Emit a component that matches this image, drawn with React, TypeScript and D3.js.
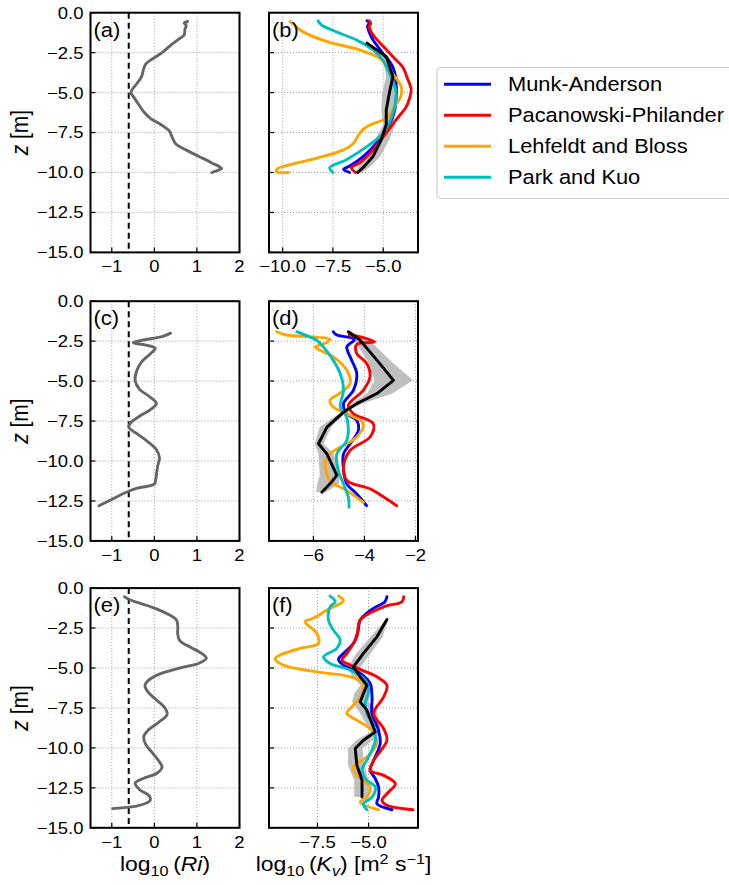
import React from 'react';
import * as d3 from 'd3';

const SX = 1.12;
const FONT = '"Liberation Sans", Arial, Helvetica, sans-serif';

// ---------- Data ----------
const zTicks = [0, -2.5, -5, -7.5, -10, -12.5, -15];
const riTicks = [-1, 0, 1, 2];
const kvTicksB = [-10, -7.5, -5];
const kvTicksD = [-6, -4, -2];
const kvTicksF = [-7.5, -5];
const riCrit = Math.log10(0.25);

const legendNames = ['Munk-Anderson', 'Pacanowski-Philander', 'Lehfeldt and Bloss', 'Park and Kuo'];
const modelColors = ['#0000ff', '#ff0000', '#ffa500', '#00bfbf'];

// Panel (a): log10(Ri)
const riA_z = [-0.55, -0.65, -0.8, -1.0, -1.4, -1.6, -2.0, -2.5, -2.9, -3.2, -3.5, -4.0, -4.4, -4.8, -5.0, -5.3, -5.7, -6.2, -6.6, -7.0, -7.4, -7.8, -8.2, -8.6, -9.0, -9.4, -9.75, -9.85, -10.0];
const riA_x = [0.78, 0.7, 0.75, 0.72, 0.7, 0.6, 0.4, 0.18, -0.05, -0.2, -0.25, -0.3, -0.4, -0.52, -0.55, -0.48, -0.38, -0.25, -0.1, 0.15, 0.35, 0.42, 0.5, 0.75, 1.05, 1.35, 1.58, 1.5, 1.35];

// Panel (c)
const riC_z = [-2.0, -2.2, -2.45, -2.6, -2.75, -2.95, -3.3, -3.8, -4.4, -5.0, -5.5, -6.0, -6.4, -6.8, -7.2, -7.6, -7.9, -8.3, -8.8, -9.3, -9.8, -10.3, -10.8, -11.2, -11.45, -11.7, -12.0, -12.4, -12.8];
const riC_x = [0.38, 0.2, -0.3, -0.5, -0.2, 0.02, -0.1, -0.3, -0.42, -0.45, -0.35, -0.1, 0.05, -0.1, -0.35, -0.55, -0.6, -0.4, -0.15, 0.05, 0.12, 0.08, 0.05, 0.03, 0.0, -0.4, -0.7, -1.0, -1.3];

// Panel (e)
const riE_z = [-0.55, -0.7, -0.9, -1.2, -1.6, -2.0, -2.4, -2.9, -3.3, -3.7, -4.1, -4.4, -4.7, -5.0, -5.4, -5.8, -6.1, -6.5, -7.0, -7.5, -7.9, -8.4, -8.9, -9.3, -9.8, -10.3, -10.8, -11.2, -11.6, -11.9, -12.2, -12.6, -13.0, -13.3, -13.6, -13.8];
const riE_x = [-0.7, -0.6, -0.4, -0.05, 0.3, 0.52, 0.55, 0.55, 0.6, 0.85, 1.12, 1.22, 1.05, 0.6, 0.1, -0.15, -0.22, -0.15, 0.05, 0.25, 0.3, 0.1, -0.15, -0.25, -0.2, -0.05, 0.1, 0.18, 0.05, -0.25, -0.45, -0.35, -0.12, -0.1, -0.35, -0.98];

// Panel (b): log10(Kv)
const maB_z = [-0.5, -0.65, -0.85, -1.2, -1.7, -2.54, -3.4, -4.4, -5.5, -6.5, -7.3, -8.2, -9.0, -9.6, -9.8, -10.0];
const maB_x = [-5.81, -5.7, -5.78, -5.7, -5.51, -5.02, -4.52, -4.36, -4.36, -4.52, -4.85, -5.35, -6.0, -6.67, -6.97, -6.67];
const ppB_z = [-0.5, -0.65, -0.85, -1.2, -1.7, -2.3, -2.85, -3.4, -4.1, -4.8, -5.4, -5.9, -6.7, -7.6, -8.6, -9.4, -9.7, -10.0];
const ppB_x = [-5.72, -5.62, -5.7, -5.6, -5.3, -4.85, -4.45, -4.03, -3.8, -3.61, -3.7, -3.86, -4.36, -4.9, -5.51, -6.17, -6.58, -6.37];
const lbB_z = [-0.56, -0.75, -1.2, -1.8, -2.33, -2.85, -3.6, -4.6, -5.2, -5.8, -6.6, -7.0, -7.3, -7.6, -8.2, -8.6, -9.1, -9.5, -9.8, -9.95, -10.0];
const lbB_x = [-9.64, -9.45, -8.98, -7.82, -6.17, -5.18, -4.69, -4.11, -4.11, -4.4, -4.85, -5.6, -6.0, -6.2, -6.5, -7.0, -8.3, -9.6, -10.3, -10.3, -9.72];
const pkB_z = [-0.5, -0.77, -1.2, -1.7, -2.33, -2.96, -3.8, -5.0, -6.3, -7.55, -8.4, -9.2, -9.7, -10.0];
const pkB_x = [-8.24, -8.07, -7.33, -6.34, -5.51, -5.02, -4.69, -4.36, -4.52, -5.02, -5.84, -6.83, -7.66, -7.5];
const obsB_z = [-1.9, -2.75, -4.0, -5.0, -6.1, -7.0, -7.95, -9.0, -9.6, -10.0];
const obsB_x = [-5.81, -4.85, -4.52, -4.69, -4.85, -4.85, -5.1, -5.51, -5.93, -6.26];
const obsB_lo = [-5.9, -5.05, -4.85, -5.05, -5.1, -5.0, -5.4, -5.85, -6.2, -6.4];
const obsB_hi = [-5.7, -4.7, -4.25, -4.35, -4.5, -4.4, -4.7, -5.15, -5.6, -6.05];

// Panel (d)
const maD_z = [-1.91, -2.1, -2.4, -2.86, -3.48, -4.53, -5.57, -6.41, -7.04, -7.46, -8.09, -8.92, -9.55, -10.5, -11.43, -12.06, -12.8];
const maD_x = [-5.22, -5.1, -4.4, -4.69, -4.56, -4.3, -4.43, -4.82, -4.69, -4.3, -4.24, -4.56, -4.82, -4.82, -4.69, -4.3, -3.91];
const ppD_z = [-2.1, -2.3, -2.54, -2.7, -3.27, -3.9, -4.74, -5.57, -6.52, -7.04, -7.67, -8.5, -9.34, -10.39, -11.22, -11.74, -12.3, -12.8];
const ppD_x = [-4.6, -4.0, -3.6, -4.3, -4.3, -3.91, -3.78, -4.04, -4.63, -4.43, -3.65, -3.78, -4.56, -4.82, -4.69, -3.78, -3.2, -2.73];
const lbD_z = [-1.91, -2.1, -2.4, -2.6, -2.86, -3.1, -3.48, -4.32, -5.15, -5.8, -6.2, -6.62, -7.04, -7.67, -8.5, -9.55, -10.18, -11.22, -11.85, -12.59];
const lbD_x = [-7.44, -7.1, -5.35, -5.5, -5.93, -5.7, -5.22, -4.69, -4.56, -5.0, -5.35, -5.22, -4.69, -4.04, -4.3, -5.35, -5.54, -5.35, -4.69, -4.04];
const pkD_z = [-1.91, -2.2, -2.44, -2.86, -3.5, -4.53, -5.57, -6.62, -7.04, -7.6, -8.71, -9.55, -10.6, -11.43, -12.27, -12.9];
const pkD_x = [-6.65, -6.2, -5.87, -5.61, -5.3, -4.95, -4.82, -4.95, -4.76, -4.65, -4.69, -5.08, -5.02, -4.82, -4.63, -4.6];
const obsD_z = [-1.91, -2.44, -3.69, -4.95, -5.78, -6.41, -6.94, -7.88, -8.92, -9.55, -10.9, -11.43, -11.96];
const obsD_x = [-4.63, -4.17, -3.51, -2.86, -3.51, -4.3, -4.82, -5.47, -5.8, -5.47, -5.08, -5.35, -5.67];
const obsD_lo = [-4.7, -4.4, -3.9, -3.6, -3.9, -4.5, -4.9, -5.75, -5.95, -5.8, -5.75, -5.85, -5.9];
const obsD_hi = [-4.5, -3.8, -3.0, -2.1, -2.9, -4.1, -4.7, -5.3, -5.6, -5.2, -4.95, -5.0, -5.5];

// Panel (f)
const maF_z = [-0.54, -0.85, -1.3, -2.0, -2.6, -3.46, -4.09, -4.46, -4.82, -5.34, -5.97, -6.81, -7.85, -8.9, -9.73, -10.78, -11.4, -11.93, -12.45, -13.08, -13.49, -13.87];
const maF_x = [-4.1, -4.2, -4.8, -5.41, -5.5, -5.74, -6.23, -6.47, -6.23, -5.41, -4.92, -4.83, -4.83, -4.51, -4.43, -4.75, -4.92, -4.67, -4.51, -4.51, -4.59, -3.85];
const ppF_z = [-0.54, -0.85, -1.17, -2.0, -3.05, -4.09, -4.5, -4.82, -5.55, -6.08, -6.81, -7.85, -8.79, -9.52, -10.78, -11.4, -11.72, -12.24, -12.87, -13.28, -13.59, -13.87];
const ppF_x = [-3.28, -3.36, -4.26, -5.41, -5.57, -6.06, -6.3, -5.9, -4.59, -4.1, -4.26, -4.75, -4.26, -4.1, -4.75, -4.92, -4.26, -3.69, -4.1, -4.34, -4.1, -2.82];
const lbF_z = [-0.5, -0.79, -1.37, -1.89, -2.1, -2.83, -3.46, -3.77, -4.19, -4.4, -4.82, -5.24, -5.55, -5.97, -6.81, -7.54, -7.85, -8.27, -8.9, -9.73, -10.57, -11.2, -11.72, -12.45, -13.08, -13.39, -13.87];
const lbF_x = [-6.47, -6.23, -7.04, -7.7, -8.1, -7.53, -7.45, -8.35, -9.33, -9.57, -9.17, -7.53, -5.9, -5.25, -5.41, -5.9, -6.06, -5.57, -4.83, -4.59, -5.08, -5.74, -5.57, -4.92, -5.08, -5.41, -4.51];
const pkF_z = [-0.5, -0.85, -1.17, -2.0, -2.63, -3.25, -3.77, -4.3, -4.72, -5.13, -5.76, -6.39, -7.22, -7.85, -8.69, -9.52, -10.57, -11.4, -11.93, -12.45, -13.08, -13.49, -13.87];
const pkF_x = [-6.88, -6.63, -6.88, -6.96, -6.72, -6.39, -6.55, -7.2, -6.88, -5.9, -5.16, -5.0, -5.16, -5.08, -4.75, -4.67, -5.0, -5.32, -5.16, -4.67, -4.83, -5.25, -5.08];
const obsF_z = [-1.96, -3.05, -4.09, -4.93, -5.55, -6.08, -6.6, -7.12, -7.64, -9.0, -9.52, -10.04, -11.09, -12.03, -13.08];
const obsF_x = [-4.1, -4.59, -5.25, -5.74, -5.41, -5.08, -5.25, -5.41, -5.08, -4.67, -5.25, -5.65, -5.57, -5.32, -5.32];
const obsF_lo = [-4.15, -4.9, -5.6, -6.0, -5.8, -5.4, -5.7, -5.8, -5.5, -4.9, -5.6, -6.0, -6.0, -5.7, -5.7];
const obsF_hi = [-4.05, -4.3, -4.9, -5.4, -5.1, -4.8, -4.9, -5.0, -4.6, -4.4, -4.8, -5.3, -5.2, -5.0, -5.0];

// ---------- Helpers ----------
const minus = (s: string) => s.replace(/-/g, '\u2212');

function T(props: any) {
  const { x, y, size, anchor = 'start', rot = false, children, dy } = props;
  const tr = `translate(${x},${y}) scale(${SX},1)${rot ? ' rotate(-90)' : ''}`;
  return (
    <text transform={tr} fontSize={size} textAnchor={anchor} fontFamily={FONT} fill="#000" dy={dy}>
      {children}
    </text>
  );
}

type Line = { z: number[]; x: number[]; color: string; width?: number };
type Band = { z: number[]; lo: number[]; hi: number[] };

const LEFT_X = 90.5;
const RIGHT_X = 269;
const PW = 149;
const PH = 239.7;
const TOPS = [12.7, 301.2, 588.1];

function Panel(props: {
  id: string; left: number; top: number; xDomain: [number, number]; xTicks: number[];
  fmt: (v: number) => string; yLabels: boolean; label: string; lines: Line[]; band?: Band; dashed?: boolean;
}) {
  const { id, left, top, xDomain, xTicks, fmt, yLabels, label, lines, band, dashed } = props;
  const xs = d3.scaleLinear().domain(xDomain).range([left, left + PW]);
  const ys = d3.scaleLinear().domain([0, -15]).range([top, top + PH]);
  const lineGen = (l: Line) =>
    d3.line<number>().x((i) => xs(l.x[i])).y((i) => ys(l.z[i])).curve(d3.curveCatmullRom.alpha(0.5))(l.z.map((_, i) => i)) || '';
  const obsLine = (l: Line) =>
    d3.line<number>().x((i) => xs(l.x[i])).y((i) => ys(l.z[i]))(l.z.map((_, i) => i)) || '';
  const areaPath = band
    ? d3.area<number>().y((i) => ys(band.z[i])).x0((i) => xs(band.lo[i])).x1((i) => xs(band.hi[i]))(band.z.map((_, i) => i)) || ''
    : '';
  const clipId = `clip-${id}`;
  const yfmt = d3.format('.1f');
  return (
    <g>
      <defs>
        <clipPath id={clipId}>
          <rect x={left} y={top} width={PW} height={PH} />
        </clipPath>
      </defs>
      <rect x={left} y={top} width={PW} height={PH} fill="#fff" />
      {zTicks.map((t) => (
        <line key={'gy' + t} x1={left} x2={left + PW} y1={ys(t)} y2={ys(t)} stroke="#9a9a9a" strokeWidth={1} strokeDasharray="1,2" />
      ))}
      {xTicks.map((t) => (
        <line key={'gx' + t} x1={xs(t)} x2={xs(t)} y1={top} y2={top + PH} stroke="#9a9a9a" strokeWidth={1} strokeDasharray="1,2" />
      ))}
      <g clipPath={`url(#${clipId})`}>
        {dashed && (
          <line x1={xs(riCrit)} x2={xs(riCrit)} y1={top} y2={top + PH} stroke="#000" strokeWidth={2} strokeDasharray="6,4" />
        )}
        {band && <path d={areaPath} fill="#bfbfbf" stroke="none" />}
        {lines.map((l, i) => (
          <path key={i} d={l.color === '#000' ? obsLine(l) : lineGen(l)} fill="none" stroke={l.color} strokeWidth={l.width ?? 2.9} strokeLinejoin="round" strokeLinecap="round" />
        ))}
      </g>
      {zTicks.map((t) => (
        <line key={'ty' + t} x1={left} x2={left + 5} y1={ys(t)} y2={ys(t)} stroke="#000" strokeWidth={1.2} />
      ))}
      {xTicks.map((t) => (
        <line key={'tx' + t} x1={xs(t)} x2={xs(t)} y1={top + PH} y2={top + PH - 5} stroke="#000" strokeWidth={1.2} />
      ))}
      <rect x={left} y={top} width={PW} height={PH} fill="none" stroke="#000" strokeWidth={2} />
      {xTicks.map((t) => (
        <T key={'lx' + t} x={xs(t)} y={top + PH + 20} size={16.5} anchor="middle">{minus(fmt(t))}</T>
      ))}
      {yLabels && zTicks.map((t) => (
        <T key={'ly' + t} x={left - 7} y={ys(t)} size={16.5} anchor="end" dy="0.36em">{minus(yfmt(t))}</T>
      ))}
      {yLabels && (
        <T x={28} y={top + PH / 2} size={21} anchor="middle" rot>
          <tspan fontStyle="italic">z</tspan>
          <tspan> [m]</tspan>
        </T>
      )}
      <T x={left + 3} y={top + 24} size={19.5}>{label}</T>
    </g>
  );
}

export default function App() {
  const c = modelColors;
  const fmtRi = d3.format('d');
  const fmt1 = d3.format('.1f');
  const fmtD = d3.format('d');
  return (
    <svg width={729} height={885} style={{ position: 'absolute', left: 0, top: 0, background: '#fff' }}>
      <rect x={0} y={0} width={729} height={885} fill="#fff" />
      <Panel id="a" left={LEFT_X} top={TOPS[0]} xDomain={[-1.5, 2]} xTicks={riTicks} fmt={fmtRi} yLabels label="(a)" dashed
        lines={[{ z: riA_z, x: riA_x, color: '#666666', width: 2.9 }]} />
      <Panel id="b" left={RIGHT_X} top={TOPS[0]} xDomain={[-10.68, -3.27]} xTicks={kvTicksB} fmt={fmt1} yLabels={false} label="(b)"
        band={{ z: obsB_z, lo: obsB_lo, hi: obsB_hi }}
        lines={[
          { z: maB_z, x: maB_x, color: c[0] },
          { z: ppB_z, x: ppB_x, color: c[1] },
          { z: lbB_z, x: lbB_x, color: c[2] },
          { z: pkB_z, x: pkB_x, color: c[3] },
          { z: obsB_z, x: obsB_x, color: '#000' },
        ]} />
      <Panel id="c" left={LEFT_X} top={TOPS[1]} xDomain={[-1.5, 2]} xTicks={riTicks} fmt={fmtRi} yLabels label="(c)" dashed
        lines={[{ z: riC_z, x: riC_x, color: '#666666', width: 2.9 }]} />
      <Panel id="d" left={RIGHT_X} top={TOPS[1]} xDomain={[-7.74, -1.9]} xTicks={kvTicksD} fmt={fmtD} yLabels={false} label="(d)"
        band={{ z: obsD_z, lo: obsD_lo, hi: obsD_hi }}
        lines={[
          { z: maD_z, x: maD_x, color: c[0] },
          { z: ppD_z, x: ppD_x, color: c[1] },
          { z: lbD_z, x: lbD_x, color: c[2] },
          { z: pkD_z, x: pkD_x, color: c[3] },
          { z: obsD_z, x: obsD_x, color: '#000' },
        ]} />
      <Panel id="e" left={LEFT_X} top={TOPS[2]} xDomain={[-1.5, 2]} xTicks={riTicks} fmt={fmtRi} yLabels label="(e)" dashed
        lines={[{ z: riE_z, x: riE_x, color: '#666666', width: 2.9 }]} />
      <Panel id="f" left={RIGHT_X} top={TOPS[2]} xDomain={[-9.87, -2.58]} xTicks={kvTicksF} fmt={fmt1} yLabels={false} label="(f)"
        band={{ z: obsF_z, lo: obsF_lo, hi: obsF_hi }}
        lines={[
          { z: maF_z, x: maF_x, color: c[0] },
          { z: ppF_z, x: ppF_x, color: c[1] },
          { z: lbF_z, x: lbF_x, color: c[2] },
          { z: pkF_z, x: pkF_x, color: c[3] },
          { z: obsF_z, x: obsF_x, color: '#000' },
        ]} />
      <T x={LEFT_X + PW / 2} y={871} size={20.5} anchor="middle">
        <tspan>log</tspan>
        <tspan dy={5} fontSize={14.5}>10</tspan>
        <tspan dy={-5}>{'\u2009('}</tspan>
        <tspan fontStyle="italic">Ri</tspan>
        <tspan>)</tspan>
      </T>
      <T x={RIGHT_X + PW / 2} y={871} size={20.5} anchor="middle">
        <tspan>log</tspan>
        <tspan dy={5} fontSize={14.5}>10</tspan>
        <tspan dy={-5}>{'\u2009('}</tspan>
        <tspan fontStyle="italic">K</tspan>
        <tspan dy={5} fontSize={14.5} fontStyle="italic">v</tspan>
        <tspan dy={-5}>) [m</tspan>
        <tspan dy={-7} fontSize={14.5}>2</tspan>
        <tspan dy={7}> s</tspan>
        <tspan dy={-7} fontSize={14.5}>{'\u22121'}</tspan>
        <tspan dy={7}>]</tspan>
      </T>
      <g>
        <rect x={437} y={67.5} width={310} height={131} rx={4} fill="#fff" stroke="#cccccc" strokeWidth={1.2} />
        {legendNames.map((n, i) => {
          const yy = 84.3 + i * 31;
          return (
            <g key={n}>
              <line x1={444} x2={491} y1={yy} y2={yy} stroke={c[i]} strokeWidth={2.9} />
              <T x={508} y={yy} size={19.5} dy="0.36em">{n}</T>
            </g>
          );
        })}
      </g>
    </svg>
  );
}
